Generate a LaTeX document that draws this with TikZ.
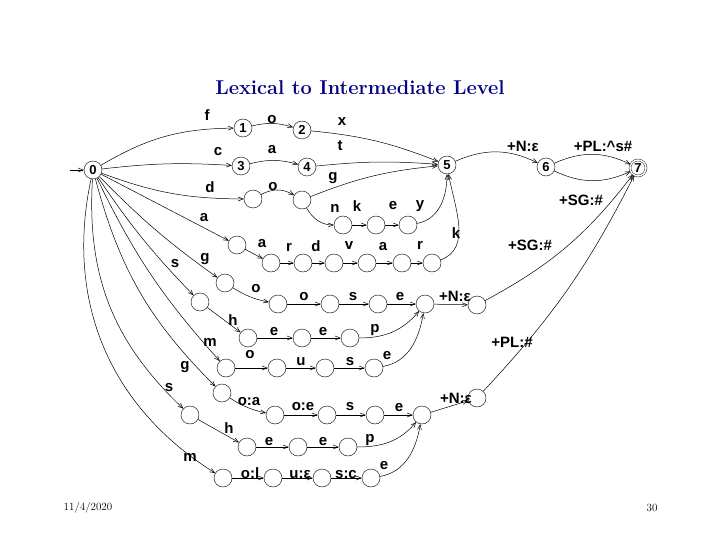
\documentclass[tikz,border=0pt]{standalone}
\usepackage{fontspec}
\setsansfont{Liberation Sans}
\usetikzlibrary{arrows.meta}
\begin{document}
\begin{tikzpicture}[x=1pt,y=-1pt,
 st/.style={circle,draw,minimum size=18pt,inner sep=0pt,font=\sffamily\bfseries\fontsize{13}{13}\selectfont},
 lb/.style={font=\sffamily\bfseries\fontsize{15}{15}\selectfont,inner sep=0pt},
 ar/.style={-{Straight Barb[length=5pt,width=4pt]},line width=0.5pt}]
\useasboundingbox (0,0) rectangle (720,540);
\node[font=\bfseries\fontsize{20}{20}\selectfont,text=blue!50!black] (title) at (360,88) {Lexical to Intermediate Level};
\node[font=\fontsize{11}{11}\selectfont] (date) at (88,508) {11/4/2020};
\node[font=\fontsize{11}{11}\selectfont] (pg) at (652,508) {30};
% states
\node[st] (q0) at (93,170) {0};
\node[st] (q1) at (243,128) {1};
\node[st] (q2) at (302,130) {2};
\node[st] (q3) at (241,166) {3};
\node[st] (q4) at (307,167) {4};
\node[st] (q5) at (447,165) {5};
\node[st] (q6) at (546,167) {6};
\node[st,double,double distance=1.5pt,minimum size=16pt] (q7) at (638,168) {7};
\node[st] (d1) at (253,199) {};
\node[st] (d2) at (302,200) {};
\node[st] (n1) at (343,225) {};
\node[st] (n2) at (376,225) {};
\node[st] (n3) at (408,225) {};
\node[st] (a1) at (237,245) {};
\node[st] (a2) at (271,263) {};
\node[st] (a3) at (303,263) {};
\node[st] (a4) at (334,263) {};
\node[st] (a5) at (367,263) {};
\node[st] (a6) at (402,263) {};
\node[st] (a7) at (432,263) {};
\node[st] (g1) at (225,283) {};
\node[st] (g2) at (278,304) {};
\node[st] (g3) at (330,304) {};
\node[st] (g4) at (378,304) {};
\node[st] (g5) at (425,304) {};
\node[st] (g6) at (477,305) {};
\node[st] (s1) at (200,302) {};
\node[st] (s2) at (248,338) {};
\node[st] (s3) at (302,338) {};
\node[st] (s4) at (350,338) {};
\node[st] (m1) at (226,368) {};
\node[st] (m2) at (277,368) {};
\node[st] (m3) at (325,368) {};
\node[st] (m4) at (374,368) {};
\node[st] (h1) at (222,393) {};
\node[st] (h2) at (275,415) {};
\node[st] (h3) at (327,415) {};
\node[st] (h4) at (375,415) {};
\node[st] (h5) at (422,415) {};
\node[st] (h6) at (477,398) {};
\node[st] (t1) at (190,415) {};
\node[st] (t2) at (247,447) {};
\node[st] (t3) at (298,447) {};
\node[st] (t4) at (348,447) {};
\node[st] (u1) at (223,478) {};
\node[st] (u2) at (273,478) {};
\node[st] (u3) at (322,478) {};
\node[st] (u4) at (371,478) {};
\coordinate (in) at (70,170);
% edges
\draw[ar] (in) -- (q0);
\draw[ar] (q0) to[bend left=15] (q1);
\draw[ar] (q1) to[bend left=15] (q2);
\draw[ar] (q2) to[bend left=8] (q5);
\draw[ar] (q0) to[bend left=5] (q3);
\draw[ar] (q3) to[bend left=15] (q4);
\draw[ar] (q4) to[bend left=5] (q5);
\draw[ar] (q0) to[bend right=10] (d1);
\draw[ar] (d1) to[bend left=30] (d2);
\draw[ar] (d2) to[bend left=8] (q5);
\draw[ar] (d2) to[out=-60,in=180] (n1);
\draw[ar] (n1) -- (n2);
\draw[ar] (n2) -- (n3);
\draw[ar] (n3) to[out=10,in=-90] (q5);
\draw[ar] (q0) -- (a1);
\draw[ar] (a1) -- (a2);
\draw[ar] (a2) -- (a3);
\draw[ar] (a3) -- (a4);
\draw[ar] (a4) -- (a5);
\draw[ar] (a5) -- (a6);
\draw[ar] (a6) -- (a7);
\draw[ar] (a7) to[out=20,in=-80] (q5);
\draw[ar] (q5) to[bend left=25] (q6);
\draw[ar] (q6) to[bend left=25] (q7);
\draw[ar] (q6) to[bend right=25] (q7);
\draw[ar] (q0) to[bend right=5] (g1);
\draw[ar] (g1) to[bend right=10] (g2);
\draw[ar] (g2) -- (g3);
\draw[ar] (g3) -- (g4);
\draw[ar] (g4) -- (g5);
\draw[ar] (g5) -- (g6);
\draw[ar] (g6) to[bend right=12] (q7);
\draw[ar] (q0) to[bend right=5] (s1);
\draw[ar] (s1) -- (s2);
\draw[ar] (s2) -- (s3);
\draw[ar] (s3) -- (s4);
\draw[ar] (s4) to[out=0,in=-130] (g5);
\draw[ar] (q0) to[bend right=8] (m1);
\draw[ar] (m1) -- (m2);
\draw[ar] (m2) -- (m3);
\draw[ar] (m3) -- (m4);
\draw[ar] (m4) to[out=10,in=-100] (g5);
\draw[ar] (q0) to[bend right=15] (h1);
\draw[ar] (h1) to[bend right=10] (h2);
\draw[ar] (h2) -- (h3);
\draw[ar] (h3) -- (h4);
\draw[ar] (h4) -- (h5);
\draw[ar] (h5) -- (h6);
\draw[ar] (h6) to[bend right=8] (q7);
\draw[ar] (q0) to[bend right=25] (t1);
\draw[ar] (t1) -- (t2);
\draw[ar] (t2) -- (t3);
\draw[ar] (t3) -- (t4);
\draw[ar] (t4) to[out=0,in=-130] (h5);
\draw[ar] (q0) to[bend right=35] (u1);
\draw[ar] (u1) -- (u2);
\draw[ar] (u2) -- (u3);
\draw[ar] (u3) -- (u4);
\draw[ar] (u4) to[out=10,in=-100] (h5);
% labels
\foreach \t/\x/\y in {f/207/115, o/272/120, x/342/122, c/218/152, a/272/150, t/340/146,
 d/210/187, o/273/187, g/333/178, n/335/208, k/357/206, e/393/206, y/420/206, k/456/233,
 a/204/218, a/262/244, r/289/247, d/316/246, v/349/246, a/383/247, r/420/245,
 s/175/264, g/205/259, o/256/289, o/304/297, s/353/297, e/400/297,
 h/233/320, e/274/332, e/323/332, p/375/330, m/210/342, o/250/355, u/301/362, s/350/362, e/387/356,
 g/185/367, s/169/388, o:a/249/402, o:e/303/407, s/350/407, e/399/408,
 h/229/428, e/269/442, e/323/442, p/370/440, m/190/457, o:l/250/473, u:ε/300/475, s:c/346/475, e/384/466,
 +N:ε/455/296, +N:ε/456/398, +N:ε/523/146, +PL:\^{}s\#/603/146,
 +SG:\#/581/200, +SG:\#/530/245, +PL:\#/512/342}
 \node[lb] at (\x,\y) {\t};
\end{tikzpicture}
\end{document}
